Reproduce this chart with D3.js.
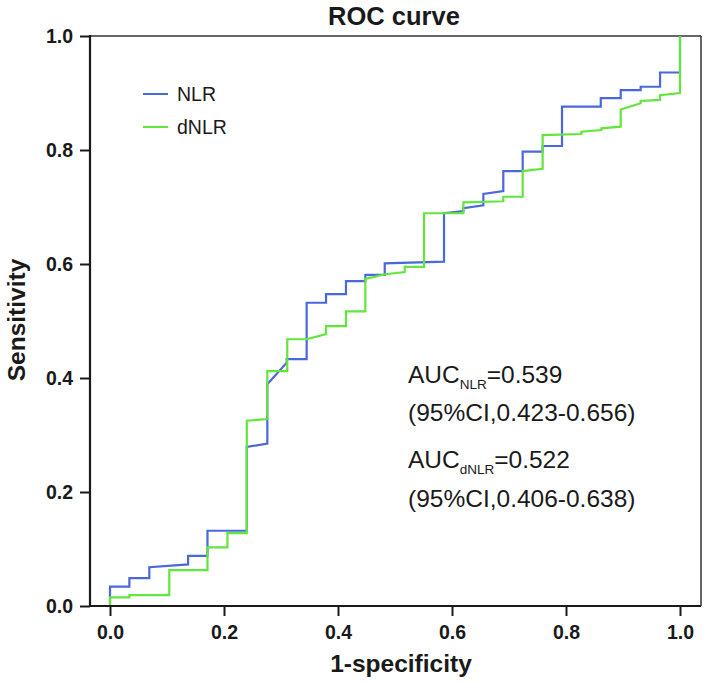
<!DOCTYPE html>
<html>
<head>
<meta charset="utf-8">
<script src="https://cdn.jsdelivr.net/npm/d3@7/dist/d3.min.js"></script>
<style>
  html, body { margin: 0; padding: 0; background: #fff; }
  svg { display: block; font-family: "Liberation Sans", Arial, sans-serif; }
</style>
</head>
<body>
<svg id="chart" width="708" height="683"></svg>
<script>
// ---- data ----
const nlrFpr = [0,0,0.034,0.034,0.069,0.069,0.137,0.137,0.171,0.171,0.240,0.240,0.276,0.276,0.310,0.310,0.345,0.345,0.379,0.379,0.414,0.414,0.448,0.448,0.482,0.482,0.586,0.586,0.620,0.620,0.655,0.655,0.690,0.690,0.724,0.724,0.759,0.759,0.793,0.793,0.861,0.861,0.896,0.896,0.931,0.931,0.965,0.965,1.0,1.0];
const nlrTpr = [0,0.034,0.034,0.049,0.049,0.068,0.073,0.088,0.088,0.132,0.132,0.279,0.285,0.389,0.427,0.433,0.433,0.532,0.532,0.547,0.547,0.570,0.570,0.581,0.581,0.601,0.604,0.689,0.693,0.698,0.703,0.723,0.728,0.763,0.763,0.797,0.797,0.807,0.807,0.876,0.876,0.891,0.891,0.905,0.905,0.911,0.911,0.936,0.936,1.0];
const dnlrFpr = [0,0,0.034,0.034,0.104,0.104,0.171,0.171,0.206,0.206,0.240,0.240,0.276,0.276,0.311,0.311,0.345,0.379,0.379,0.414,0.414,0.448,0.448,0.483,0.517,0.517,0.551,0.551,0.620,0.620,0.690,0.690,0.724,0.724,0.759,0.759,0.827,0.827,0.862,0.862,0.896,0.896,0.931,0.931,0.965,0.965,1.0,1.0];
const dnlrTpr = [0,0.015,0.015,0.019,0.019,0.063,0.063,0.103,0.103,0.128,0.128,0.325,0.328,0.412,0.412,0.468,0.468,0.477,0.491,0.491,0.517,0.517,0.574,0.582,0.586,0.595,0.595,0.689,0.689,0.708,0.710,0.718,0.718,0.763,0.767,0.826,0.828,0.832,0.835,0.838,0.841,0.871,0.882,0.886,0.888,0.896,0.900,1.0];
const tickValues = [0, 0.2, 0.4, 0.6, 0.8, 1.0];
const seriesNames = ["NLR", "dNLR"];
const seriesColors = ["#4a68dc", "#62e63c"];

// ---- chart ----
const svg = d3.select("#chart");
const x = d3.scaleLinear().domain([0, 1]).range([110, 680]);
const y = d3.scaleLinear().domain([0, 1]).range([606, 36]);
const frameL = 90, frameR = 701, frameT = 36, frameB = 606;
const ink = "#1a1a1a";

// frame (top / right thinner)
svg.append("line").attr("x1", frameL).attr("x2", frameR).attr("y1", frameT).attr("y2", frameT)
  .attr("stroke", "#333").attr("stroke-width", 1.5);
svg.append("line").attr("x1", frameR).attr("x2", frameR).attr("y1", frameT).attr("y2", frameB)
  .attr("stroke", "#333").attr("stroke-width", 1.5);

// axes
const xAxis = d3.axisBottom(x).tickValues(tickValues).tickFormat(d3.format(".1f")).tickSize(10).tickPadding(9);
const yAxis = d3.axisLeft(y).tickValues(tickValues).tickFormat(d3.format(".1f")).tickSize(10).tickPadding(7);

const gx = svg.append("g").attr("transform", `translate(0,${frameB})`).call(xAxis);
const gy = svg.append("g").attr("transform", `translate(${frameL},0)`).call(yAxis);
[gx, gy].forEach(g => {
  g.select(".domain").remove();
  g.selectAll(".tick line").attr("stroke", ink).attr("stroke-width", 2);
  g.selectAll(".tick text").attr("fill", ink).style("font-size", "19.5px").style("font-weight", "bold")
    .style("font-family", "'Liberation Sans', Arial, sans-serif");
});

// curves
const line = d3.line().x(d => x(d[0])).y(d => y(d[1]));
const series = [
  d3.zip(nlrFpr, nlrTpr),
  d3.zip(dnlrFpr, dnlrTpr)
];
series.forEach((pts, i) => {
  svg.append("path").datum(pts).attr("d", line)
    .attr("fill", "none").attr("stroke", seriesColors[i]).attr("stroke-width", 2.2)
    .attr("stroke-linejoin", "miter");
});

// left / bottom axis lines (thicker)
svg.append("line").attr("x1", frameL).attr("x2", frameL).attr("y1", frameT - 1).attr("y2", frameB + 1)
  .attr("stroke", ink).attr("stroke-width", 2.2);
svg.append("line").attr("x1", frameL - 1).attr("x2", frameR).attr("y1", frameB).attr("y2", frameB)
  .attr("stroke", ink).attr("stroke-width", 2.2);

// title & axis labels
svg.append("text").attr("x", 394).attr("y", 25).attr("text-anchor", "middle")
  .attr("fill", ink).style("font-size", "25.5px").style("font-weight", "bold").text("ROC curve");
svg.append("text").attr("x", 401).attr("y", 672).attr("text-anchor", "middle")
  .attr("fill", ink).style("font-size", "24.5px").style("font-weight", "bold").text("1-specificity");
svg.append("text").attr("transform", "translate(25,320) rotate(-90)").attr("text-anchor", "middle")
  .attr("fill", ink).style("font-size", "24.5px").style("font-weight", "bold").text("Sensitivity");

// legend
const legY = [94, 127];
seriesNames.forEach((name, i) => {
  svg.append("line").attr("x1", 143).attr("x2", 168).attr("y1", legY[i]).attr("y2", legY[i])
    .attr("stroke", seriesColors[i]).attr("stroke-width", 2);
  svg.append("text").attr("x", 177).attr("y", legY[i] + 7).attr("fill", ink)
    .style("font-size", "19.5px").text(name);
});

// AUC annotation
const aucLines = [
  {main: "AUC", sub: "NLR", rest: "=0.539", y: 383},
  {text: "(95%CI,0.423-0.656)", y: 421},
  {main: "AUC", sub: "dNLR", rest: "=0.522", y: 468},
  {text: "(95%CI,0.406-0.638)", y: 507}
];
aucLines.forEach(l => {
  const t = svg.append("text").attr("x", 408).attr("y", l.y).attr("fill", ink).style("font-size", "24.5px");
  if (l.text) { t.text(l.text); return; }
  t.append("tspan").text(l.main);
  t.append("tspan").attr("dy", 6).style("font-size", "13.5px").text(l.sub);
  t.append("tspan").attr("dy", -6).text(l.rest);
});
</script>
</body>
</html>
